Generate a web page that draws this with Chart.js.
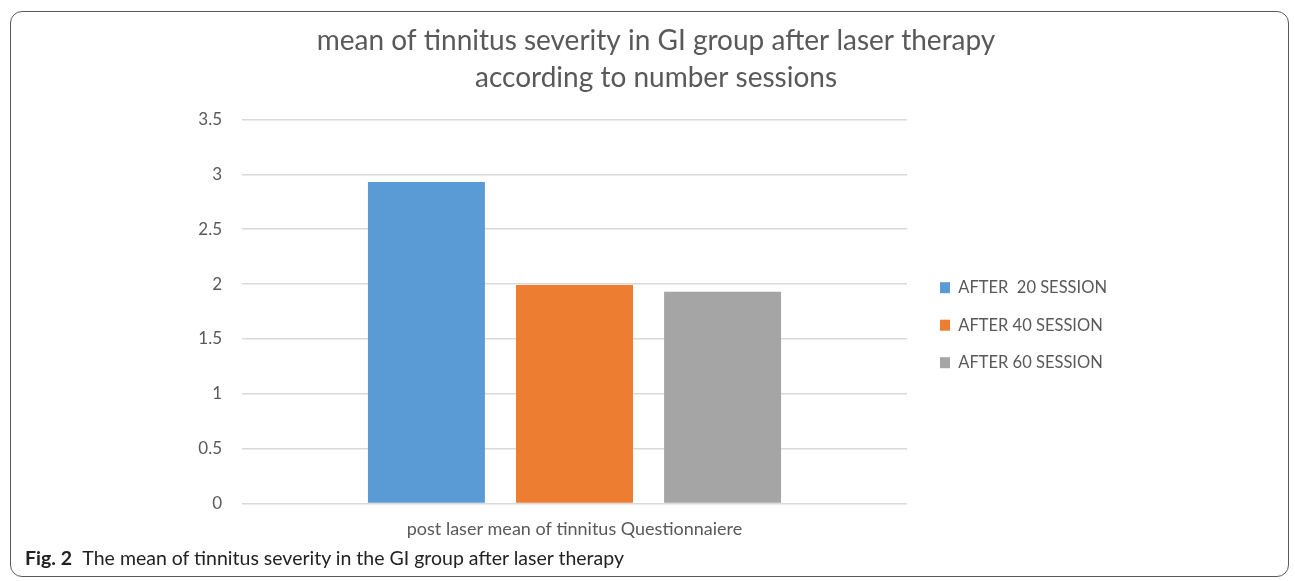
<!DOCTYPE html>
<html>
<head>
<meta charset="utf-8">
<script src="https://cdn.jsdelivr.net/npm/chart.js@4/dist/chart.umd.min.js"></script>
<style>
  html, body { margin: 0; padding: 0; background: #fff; }
  #frame {
    position: absolute; left: 10px; top: 11px; width: 1279px; height: 566px;
    border: 1.5px solid #5a5a5a; border-radius: 12px; box-sizing: border-box;
  }
  #wrap { position: absolute; left: 0; top: 0; width: 1295px; height: 547px; }
  #caption {
    position: absolute; left: 25px; top: 546px;
    font-family: Lato, "Open Sans", sans-serif; font-size: 19.5px; color: #222;
  }
  #caption b { margin-right: 6px; }
</style>
</head>
<body>
<div id="frame"></div>
<div id="wrap"><canvas id="grafico"></canvas></div>
<div id="caption"><b>Fig. 2</b> The mean of tinnitus severity in the GI group after laser therapy</div>
<script>
// dados do gráfico
const categorias = ['post laser mean of tinnitus Questionnaiere'];
const series = ['AFTER  20 SESSION', 'AFTER 40 SESSION', 'AFTER 60 SESSION'];
const valores = [2.93, 1.99, 1.93];
const cores = ['#5B9BD5', '#ED7D31', '#A5A5A5'];
const tituloLinhas = ['mean of tinnitus severity in GI group after laser therapy', 'according to number sessions'];

const corTexto = '#595959';
const fonte = 'Lato, "Open Sans", sans-serif';

// força a largura da legenda para que ela fique colada à área do gráfico
const larguraLegenda = {
    id: 'larguraLegenda',
    beforeLayout(chart) {
        const lg = chart.legend;
        if (!lg || lg._larguraFixa) return;
        const fitOrig = lg.fit.bind(lg);
        lg.fit = function () {
            fitOrig();
            this.width = 373;
        };
        lg._larguraFixa = true;
    }
};

const ctx = document.getElementById('grafico').getContext('2d');

new Chart(ctx, {
    type: 'bar',
    data: {
        labels: categorias,
        datasets: series.map((nome, i) => ({
            label: nome,
            data: [valores[i]],
            backgroundColor: cores[i],
            categoryPercentage: 0.668,
            barPercentage: 0.79
        }))
    },
    plugins: [larguraLegenda],
    options: {
        responsive: true,
        maintainAspectRatio: false,
        animation: false,
        layout: { padding: { left: 20, right: 3, top: 14, bottom: 0 } },
        plugins: {
            title: {
                display: true,
                text: tituloLinhas,
                color: corTexto,
                font: { family: fonte, size: 28, weight: 'normal', lineHeight: 1.33 },
                padding: { top: 8, bottom: 23 }
            },
            legend: {
                position: 'right',
                title: { display: true, text: ' ', font: { size: 12 }, padding: { top: 75, bottom: 0 } },
                labels: {
                    color: corTexto,
                    font: { family: fonte, size: 16.5 },
                    boxWidth: 10,
                    boxHeight: 11,
                    padding: 21
                }
            },
            tooltip: { enabled: false }
        },
        scales: {
            x: {
                grid: { display: false },
                border: { display: false },
                ticks: { color: corTexto, font: { family: fonte, size: 18 }, padding: 7 }
            },
            y: {
                min: 0,
                max: 3.5,
                ticks: {
                    stepSize: 0.5,
                    color: corTexto,
                    font: { family: fonte, size: 17 },
                    padding: 20,
                    callback: (v) => String(v)
                },
                grid: { color: '#d9d9d9', lineWidth: 1.5, drawTicks: false },
                border: { display: false },
                afterFit: (scale) => { scale.width = 222; }
            },
            // eixo vazio só para afastar a legenda da área do gráfico
            espaco: {
                type: 'linear',
                position: 'right',
                display: true,
                ticks: { display: false },
                grid: { display: false },
                border: { display: false },
                afterFit: (scale) => { scale.width = 12; }
            }
        }
    }
});
</script>
</body>
</html>
